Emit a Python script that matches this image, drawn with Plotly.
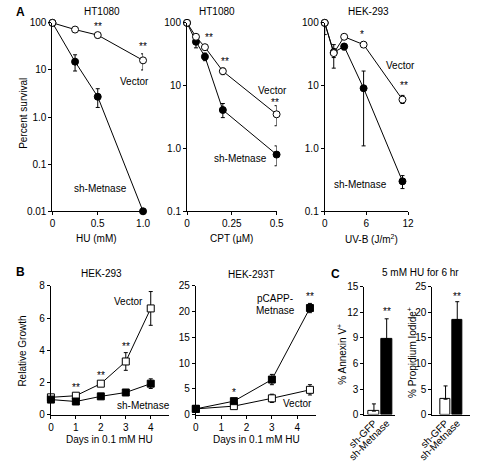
import plotly.graph_objects as go
import math

W, H = 478, 467
FONT = "Liberation Sans, Arial, sans-serif"

# ---------------- data ----------------
# Panel A1: HT1080, HU
hu_dose = [0, 0.25, 0.5, 1.0]
a1_vector = [100, 72, 55, 16]
a1_vector_up = [0, 5, 7, 6]
a1_vector_dn = [0, 5, 7, 6]
a1_sh = [100, 15, 2.7, 0.01]
a1_sh_up = [0, 6, 1.3, 0]
a1_sh_dn = [0, 5.5, 1.1, 0]

# Panel A2: HT1080, CPT
cpt_dose = [0, 0.05, 0.1, 0.2, 0.5]
a2_vector = [100, 60, 41, 17, 3.5]
a2_vector_up = [0, 5, 4, 2, 1.3]
a2_vector_dn = [0, 5, 4, 2, 1.2]
a2_sh = [100, 50, 29, 4.1, 0.80]
a2_sh_up = [0, 10, 4, 1.1, 0.3]
a2_sh_dn = [0, 10, 4, 1.0, 0.27]

# Panel A3: HEK-293, UV-B
uv_dose = [0, 1.3, 2.8, 5.6, 11.2]
a3_vector = [100, 33, 60, 45, 6.0]
a3_vector_up = [0, 12, 5, 4, 1.0]
a3_vector_dn = [0, 5, 5, 4, 0.8]
a3_sh = [100, 34, 42, 9.1, 0.30]
a3_sh_up = [0, 5, 5, 8, 0.07]
a3_sh_dn = [35, 15, 5, 8, 0.07]

# Panel B1: HEK-293 growth
days1 = [0, 1, 2, 3, 4]
b1_vector = [1.07, 1.17, 1.92, 3.3, 6.6]
b1_vector_err = [0.1, 0.1, 0.1, 0.55, 1.05]
b1_sh = [0.93, 0.81, 1.13, 1.37, 1.92]
b1_sh_err = [0.1, 0.1, 0.08, 0.1, 0.3]

# Panel B2: HEK-293T growth
days2 = [0, 1.5, 3, 4.5]
b2_pcapp = [1.1, 2.6, 6.8, 20.7]
b2_pcapp_err = [0.2, 0.4, 1.0, 0.9]
b2_vector = [1.1, 1.63, 3.15, 4.8]
b2_vector_err = [0.2, 0.3, 0.8, 1.0]

# Panel C
c_groups = ["sh-GFP", "sh-Metnase"]
annexin = [0.4, 8.9]
annexin_err = [0.85, 2.35]
pi_vals = [3.0, 18.6]
pi_err = [2.6, 3.5]

# ---------------- layout helpers ----------------
def xd(a, b):
    return [a / W, b / W]

def yd(top, bottom):
    return [1 - bottom / H, 1 - top / H]

def P(x, y):
    return x / W, 1 - y / H

axis_common = dict(showline=True, linecolor="black", linewidth=1, ticks="outside",
                   ticklen=3, tickcolor="black", tickwidth=1, showgrid=False,
                   zeroline=False, tickfont=dict(family=FONT, size=10, color="black"),
                   fixedrange=True)

fig = go.Figure()

line_style = dict(color="black", width=1)

def add_line(x, y, up, dn, xa, ya, filled, symbol):
    fig.add_trace(go.Scatter(
        x=x, y=y, mode="lines+markers", xaxis=xa, yaxis=ya,
        line=line_style, cliponaxis=False,
        marker=dict(symbol=symbol, size=7, color="black" if filled else "white",
                    line=dict(color="black", width=1)),
        error_y=dict(type="data", array=up, arrayminus=dn, visible=True,
                     color="black", thickness=1, width=2),
        showlegend=False, hoverinfo="skip"))

# A1
add_line(hu_dose, a1_sh, a1_sh_up, a1_sh_dn, "x", "y", True, "circle")
add_line(hu_dose, a1_vector, a1_vector_up, a1_vector_dn, "x", "y", False, "circle")
# A2
add_line(cpt_dose, a2_sh, a2_sh_up, a2_sh_dn, "x2", "y2", True, "circle")
add_line(cpt_dose, a2_vector, a2_vector_up, a2_vector_dn, "x2", "y2", False, "circle")
# A3
add_line(uv_dose, a3_sh, a3_sh_up, a3_sh_dn, "x3", "y3", True, "circle")
add_line(uv_dose, a3_vector, a3_vector_up, a3_vector_dn, "x3", "y3", False, "circle")
# B1
add_line(days1, b1_vector, b1_vector_err, b1_vector_err, "x4", "y4", False, "square")
add_line(days1, b1_sh, b1_sh_err, b1_sh_err, "x4", "y4", True, "square")
# B2
add_line(days2, b2_vector, b2_vector_err, b2_vector_err, "x5", "y5", False, "square")
add_line(days2, b2_pcapp, b2_pcapp_err, b2_pcapp_err, "x5", "y5", True, "square")

# C bars
bar_idx = list(range(len(c_groups)))
fig.add_trace(go.Bar(x=bar_idx, y=annexin, xaxis="x6", yaxis="y6", width=0.87,
                     marker=dict(color=["white", "black"], line=dict(color="black", width=1)),
                     error_y=dict(type="data", array=annexin_err, arrayminus=[0, 0],
                                  color="black", thickness=1, width=2),
                     showlegend=False, hoverinfo="skip", cliponaxis=False))
fig.add_trace(go.Bar(x=bar_idx, y=pi_vals, xaxis="x7", yaxis="y7", width=0.9,
                     marker=dict(color=["white", "black"], line=dict(color="black", width=1)),
                     error_y=dict(type="data", array=pi_err, arrayminus=[0, 0],
                                  color="black", thickness=1, width=2),
                     showlegend=False, hoverinfo="skip", cliponaxis=False))

yA = yd(17.3, 210.7)
yB = yd(287.3, 419.3)
yC = yd(288.3, 419.3)

cat_axis = dict(axis_common, ticks="", tickangle=-45, ticklabelstandoff=-2,
                tickfont=dict(family=FONT, size=10, color="black"))

fig.update_layout(
    width=W, height=H, margin=dict(l=0, r=0, t=0, b=0),
    paper_bgcolor="white", plot_bgcolor="white",
    font=dict(family=FONT, size=10, color="black"),
    bargap=0,
    xaxis=dict(axis_common, domain=xd(37.3, 132.7), range=[0, 1.0], anchor="y",
               tickvals=[0, 0.5, 1.0], ticktext=["0", "0.5", "1.0"]),
    yaxis=dict(axis_common, domain=yA, type="log", range=[-2, 2], anchor="x",
               tickvals=[0.01, 0.1, 1, 10, 100], ticktext=["0.01", "0.1", "1.0", "10", "100"]),
    xaxis2=dict(axis_common, domain=xd(179, 273.3), range=[0, 0.5], anchor="y2",
                tickvals=[0, 0.25, 0.5], ticktext=["0", "0.25", "0.5"]),
    yaxis2=dict(axis_common, domain=yA, type="log", range=[-1, 2], anchor="x2",
                tickvals=[0.1, 1, 10, 100], ticktext=["0.1", "1.0", "10", "100"]),
    xaxis3=dict(axis_common, domain=xd(324, 411.7), range=[0, 12], anchor="y3",
                tickvals=[0, 6, 12]),
    yaxis3=dict(axis_common, domain=yA, type="log", range=[-1, 2], anchor="x3",
                tickvals=[0.1, 1, 10, 100], ticktext=["0.1", "1.0", "10", "100"]),
    xaxis4=dict(axis_common, domain=xd(35.7, 160), range=[0, 4.73], anchor="y4",
                tickvals=[0, 1, 2, 3, 4]),
    yaxis4=dict(axis_common, domain=yB, range=[0, 8], anchor="x4",
                tickvals=[0, 2, 4, 6, 8]),
    xaxis5=dict(axis_common, domain=xd(188.3, 314.3), range=[0, 4.72], anchor="y5",
                tickvals=[0, 1, 2, 3, 4]),
    yaxis5=dict(axis_common, domain=yB, range=[0, 25], anchor="x5",
                tickvals=[0, 5, 10, 15, 20, 25]),
    xaxis6=dict(cat_axis, domain=xd(365.7, 398), range=[-0.754, 1.657], anchor="y6",
                tickvals=bar_idx, ticktext=c_groups),
    yaxis6=dict(axis_common, domain=yC, range=[0, 15], anchor="x6",
                tickvals=[0, 3, 6, 9, 12, 15]),
    xaxis7=dict(cat_axis, domain=xd(437.3, 476.7), range=[-1.13, 2.07], anchor="y7",
                tickvals=bar_idx, ticktext=c_groups),
    yaxis7=dict(axis_common, domain=yC, range=[0, 25], anchor="x7",
                tickvals=[0, 5, 10, 15, 20, 25]),
)

ann = []

def data_text(text, x, y, xref, yref, log=False):
    ann.append(dict(text=text, x=x, y=(math.log10(y) if log else y), xref=xref, yref=yref,
                    showarrow=False, xanchor="center", yanchor="middle",
                    font=dict(family=FONT, size=10, color="black")))

def paper_text(text, px, py, size=10, bold=False, angle=0, xanchor="center"):
    x, y = P(px, py)
    ann.append(dict(text=(f"<b>{text}</b>" if bold else text), x=x, y=y, xref="paper",
                    yref="paper", showarrow=False, xanchor=xanchor, yanchor="middle",
                    textangle=angle, font=dict(family=FONT, size=size, color="black")))

# A1 annotations
data_text("**", 0.25, 112, "x", "y", log=True)
data_text("**", 0.5, 83, "x", "y", log=True)
data_text("**", 1.0, 31, "x", "y", log=True)
data_text("Vector", 0.91, 5.8, "x", "y", log=True)
data_text("sh-Metnase", 0.53, 0.03, "x", "y", log=True)
# A2 annotations
data_text("**", 0.12, 59, "x2", "y2", log=True)
data_text("**", 0.214, 24, "x2", "y2", log=True)
data_text("**", 0.49, 5.4, "x2", "y2", log=True)
data_text("Vector", 0.48, 8.3, "x2", "y2", log=True)
data_text("sh-Metnase", 0.297, 0.68, "x2", "y2", log=True)
# A3 annotations
data_text("*", 5.4, 66, "x3", "y3", log=True)
data_text("**", 11.4, 10.2, "x3", "y3", log=True)
data_text("Vector", 10.96, 21, "x3", "y3", log=True)
data_text("sh-Metnase", 5.16, 0.27, "x3", "y3", log=True)
# B1 annotations
for d, v in zip([1, 2, 3, 4], [1.68, 2.44, 4.26, 8.1]):
    data_text("**", d, v, "x4", "y4")
data_text("Vector", 3.09, 7.03, "x4", "y4")
data_text("sh-Metnase", 3.72, 0.57, "x4", "y4")
# B2 annotations
data_text("*", 1.5, 4.3, "x5", "y5")
data_text("**", 4.5, 22.9, "x5", "y5")
data_text("pCAPP-", 3.13, 22.5, "x5", "y5")
data_text("Metnase", 3.13, 20.3, "x5", "y5")
data_text("Vector", 4.0, 2.1, "x5", "y5")
# C annotations
data_text("**", 1, 12.1, "x6", "y6")
data_text("**", 1, 23.1, "x7", "y7")

# panel letters and titles
paper_text("A", 4, 6, size=12, bold=True)
paper_text("B", 4, 273, size=12, bold=True)
paper_text("C", 335, 275, size=12, bold=True)
paper_text("HT1080", 90, 6)
paper_text("HT1080", 211, 6)
paper_text("HEK-293", 370, 6)
paper_text("HEK-293", 89, 275)
paper_text("HEK-293T", 247, 276)
paper_text("5 mM HU for 6 hr", 425, 274)

# axis titles
paper_text("Percent survival", 6, 110, angle=-90)
paper_text("HU (mM)", 84, 239)
paper_text("CPT (µM)", 226, 239)
paper_text("UV-B (J/m<sup>2</sup>)", 373, 239)
paper_text("Relative Growth", 6, 354, angle=-90)
paper_text("Days in 0.1 mM HU", 97, 445)
paper_text("Days in 0.1 mM HU", 252, 445)
paper_text("% Annexin V<sup>+</sup>", 342, 357, angle=-90)
paper_text("% Propidium Iodide<sup>+</sup>", 416, 356, angle=-90)

fig.update_layout(annotations=ann)
fig.write_html("out.html", config={"displayModeBar": False},
               post_script="document.body.style.margin='0';document.body.style.overflow='hidden';")
